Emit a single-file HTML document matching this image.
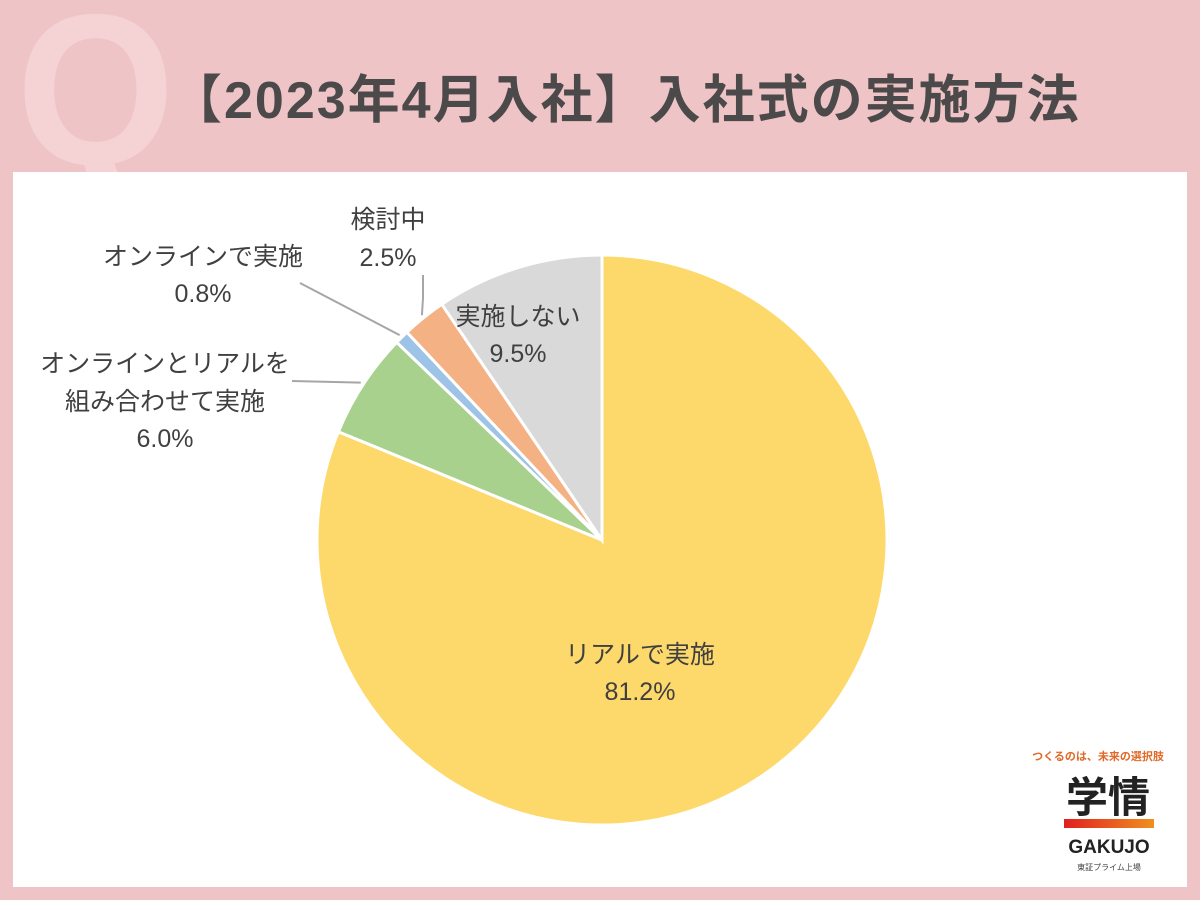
<!DOCTYPE html>
<html><head><meta charset="utf-8"><style>
body{margin:0;width:1200px;height:900px;background:#efc4c7;overflow:hidden;font-family:"Liberation Sans","Noto Sans CJK JP",sans-serif;position:relative}
.q{position:absolute;left:12px;top:-18px;font-size:215px;font-weight:bold;color:#f5d3d5;line-height:1;font-family:"Liberation Sans",sans-serif;transform:scaleX(0.95)}
.title{position:absolute;left:170px;top:58px;font-size:52px;font-weight:bold;color:#4b4949;letter-spacing:2px;white-space:nowrap}
.panel{position:absolute;left:13px;top:172px;width:1174px;height:715px;background:#fff}
svg{position:absolute;left:0;top:0}
</style></head><body>
<div class="q">Q</div>
<div class="title">【2023年4月入社】入社式の実施方法</div>
<div class="panel"></div>
<svg id="chart" width="1200" height="900">
<g id="slices"></g><g id="labels" font-family="Liberation Sans, Noto Sans CJK JP, sans-serif" font-size="25" fill="#404040" text-anchor="middle"></g>
<g>
<text x="1098" y="760" font-size="11" fill="#e06a2a" text-anchor="middle" font-family="Noto Sans CJK JP,sans-serif" font-weight="bold">つくるのは、未来の選択肢</text>
<text x="1108" y="812" font-size="42" fill="#222" text-anchor="middle" font-family="Noto Sans CJK JP,sans-serif" font-weight="bold">学情</text>
<defs><linearGradient id="lg"><stop offset="0" stop-color="#e02020"/><stop offset="1" stop-color="#f09020"/></linearGradient></defs>
<rect x="1064" y="819" width="90" height="9" fill="url(#lg)"/>
<text x="1109" y="853" font-size="19" fill="#222" text-anchor="middle" font-weight="bold">GAKUJO</text>
<text x="1109" y="870" font-size="8" fill="#444" text-anchor="middle" font-family="Noto Sans CJK JP,sans-serif">東証プライム上場</text>
</g>
</svg>
<script>
const categories=["リアルで実施","オンラインとリアルを組み合わせて実施","オンラインで実施","検討中","実施しない"];
const values=[81.2,6.0,0.8,2.5,9.5];
const colors=["#fdd86b","#a9d18e","#9dc3e6","#f4b183","#d9d9d9"];
const cx=602,cy=540,r=285;
const ns="http://www.w3.org/2000/svg";
const total=values.reduce((a,b)=>a+b,0);
const g=document.getElementById('slices');
let a0=0;
const mids=[];
values.forEach((v,i)=>{
  const a1=a0+v/total*2*Math.PI;
  const p=(a)=>[cx+r*Math.sin(a),cy-r*Math.cos(a)];
  const [x0,y0]=p(a0),[x1,y1]=p(a1);
  const path=document.createElementNS(ns,'path');
  path.setAttribute('d',`M${cx},${cy}L${x0},${y0}A${r},${r} 0 ${a1-a0>Math.PI?1:0} 1 ${x1},${y1}Z`);
  path.setAttribute('fill',colors[i]);path.setAttribute('stroke','#fff');path.setAttribute('stroke-width','3');
  
  
  g.appendChild(path);
  mids.push((a0+a1)/2);a0=a1;
});
const L=document.getElementById('labels');
function txt(x,y,s,name){const t=document.createElementNS(ns,'text');t.setAttribute('x',x);t.setAttribute('y',y);t.textContent=s;


L.appendChild(t);}
function line(pts,name){const l=document.createElementNS(ns,'polyline');l.setAttribute('points',pts);l.setAttribute('fill','none');l.setAttribute('stroke','#a6a6a6');l.setAttribute('stroke-width','2');


document.getElementById('chart').insertBefore(l,L);}
const pct=v=>v.toFixed(1)+'%';
txt(640,663,categories[0],'label-real');txt(640,700,pct(values[0]),'value-real');
txt(165,372,"オンラインとリアルを",'label-hybrid');txt(165,410,"組み合わせて実施",'label-hybrid-2');txt(165,447,pct(values[1]),'value-hybrid');
txt(203,265,categories[2],'label-online');txt(203,302,pct(values[2]),'value-online');
txt(388,228,categories[3],'label-pending');txt(388,266,pct(values[3]),'value-pending');
txt(518,325,categories[4],'label-none');txt(518,362,pct(values[4]),'value-none');
const ep=i=>[cx+(r+3)*Math.sin(mids[i]),cy-(r+3)*Math.cos(mids[i])];
line(`292,381 ${ep(1).join(',')}`,'leader-hybrid');
line(`300,283 ${ep(2).join(',')}`,'leader-online');
line(`423,275 423,298 ${ep(3).join(',')}`,'leader-pending');
</script>
</body></html>
